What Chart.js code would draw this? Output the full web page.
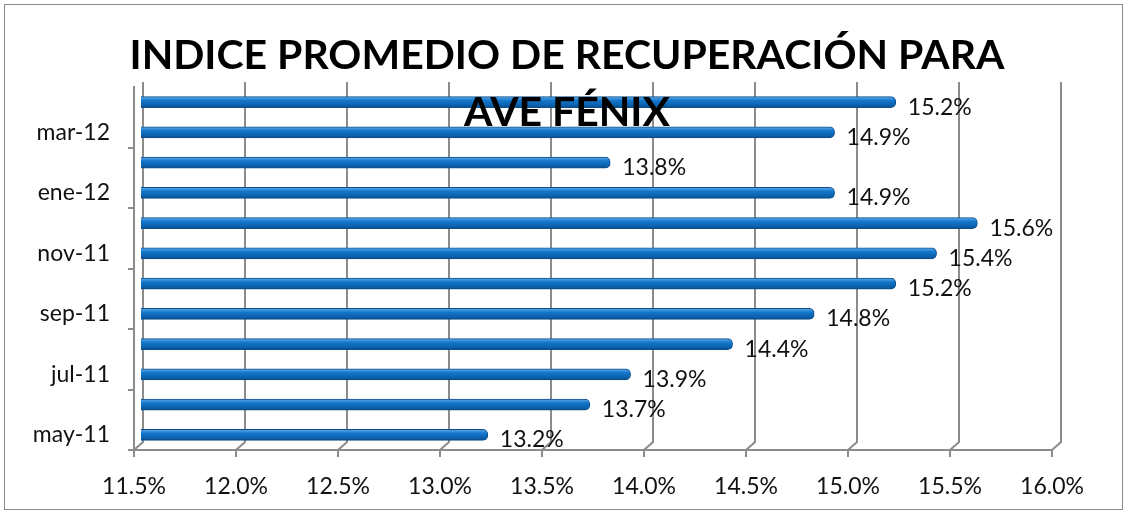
<!DOCTYPE html>
<html>
<head>
<meta charset="utf-8">
<script src="https://cdn.jsdelivr.net/npm/chart.js@4"></script>
<style>
  html, body { margin: 0; padding: 0; background: #fff; }
  #wrap { width: 1127px; height: 511px; position: relative; }
</style>
</head>
<body>
<div id="wrap"><canvas id="chart_indice"></canvas></div>
<script>
// data
var meses = ['may-11', 'jun-11', 'jul-11', 'ago-11', 'sep-11', 'oct-11',
             'nov-11', 'dic-11', 'ene-12', 'feb-12', 'mar-12', 'abr-12'];
var indice = [13.2, 13.7, 13.9, 14.4, 14.8, 15.2, 15.4, 15.6, 14.9, 13.8, 14.9, 15.2];
var tituloLineas = ['INDICE PROMEDIO DE RECUPERACIÓN PARA', 'AVE FÉNIX'];
var ejeMin = 11.5, ejeMax = 16.0, ejePaso = 0.5;

var FONT = 'Lato, "Open Sans", sans-serif';
var GRID = '#8c8c8c';
var PROF = 7; // depth shift of the bars (3D look)

var chart_indice = new Chart(document.getElementById('chart_indice'), {
    type: 'bar',
    data: {
        labels: meses,
        datasets: [{
            label: 'Indice',
            data: indice,
            barThickness: 11,
            borderRadius: 5,
            borderSkipped: 'start',
            borderWidth: 1,
            borderColor: '#0d4f8a',
            backgroundColor: function (ctx) {
                var c = ctx.chart;
                var ys = c.scales.y;
                if (!ys || !c.chartArea) return '#1f77c8';
                var yc = ys.getPixelForValue(ctx.dataIndex);
                var g = c.ctx.createLinearGradient(0, yc - 6, 0, yc + 6);
                g.addColorStop(0, '#6cb2ee');
                g.addColorStop(0.35, '#1578cc');
                g.addColorStop(0.8, '#0a5ea8');
                g.addColorStop(1, '#08457c');
                return g;
            }
        }]
    },
    options: {
        indexAxis: 'y',
        animation: false,
        responsive: true,
        maintainAspectRatio: false,
        layout: { padding: { top: 87, right: 75, bottom: 0, left: 0 } },
        plugins: {
            legend: { display: false },
            title: { display: false },
            tooltip: { enabled: false }
        },
        scales: {
            x: {
                type: 'linear',
                min: ejeMin,
                max: ejeMax,
                afterFit: function (axis) { axis.height = 61; },
                afterBuildTicks: function (axis) {
                    var t = [];
                    for (var v = ejeMin; v <= ejeMax + 1e-9; v += ejePaso) t.push({ value: Math.round(v * 10) / 10 });
                    axis.ticks = t;
                },
                ticks: {
                    color: '#111',
                    font: { family: FONT, size: 23 },
                    padding: 16,
                    callback: function (v) { return Number(v).toFixed(1) + '%'; }
                },
                grid: { drawOnChartArea: false, drawTicks: true, tickLength: 7, color: GRID, lineWidth: 2 },
                border: { display: true, color: GRID, width: 2 }
            },
            y: {
                reverse: true,
                afterFit: function (axis) { axis.width = 134; },
                ticks: {
                    color: '#111',
                    font: { family: FONT, size: 23 },
                    padding: 18,
                    autoSkip: false,
                    callback: function (v, i) { return i % 2 === 0 ? meses[i] : ''; }
                },
                grid: {
                    offset: true,
                    drawOnChartArea: false,
                    tickLength: 6,
                    lineWidth: 2,
                    color: function (ctx) { return ctx.index % 2 === 0 ? GRID : 'rgba(0,0,0,0)'; }
                },
                border: { display: true, color: GRID, width: 2 }
            }
        }
    },
    plugins: [{
        id: 'fondoYMarco',
        beforeDraw: function (chart) {
            var ctx = chart.ctx;
            ctx.save();
            ctx.fillStyle = 'white';
            ctx.fillRect(0, 0, chart.width, chart.height);
            ctx.strokeStyle = '#8a8a8a';
            ctx.lineWidth = 1;
            ctx.strokeRect(4.5, 4.5, 1118, 505);
            ctx.restore();
        }
    }, {
        id: 'paredFondo',
        // back wall gridlines with the little 3D step at the floor
        beforeDatasetsDraw: function (chart) {
            var ctx = chart.ctx, xs = chart.scales.x, a = chart.chartArea;
            ctx.save();
            ctx.strokeStyle = GRID;
            ctx.lineWidth = 2;
            xs.ticks.forEach(function (t) {
                var px = xs.getPixelForValue(t.value);
                ctx.beginPath();
                ctx.moveTo(px, a.bottom);
                ctx.lineTo(px + 9, a.bottom - 8);
                ctx.lineTo(px + 9, a.top - 5);
                ctx.stroke();
            });
            ctx.restore();
        },
        beforeDatasetDraw: function (chart) {
            chart.ctx.save();
            chart.ctx.translate(PROF, 0);
        },
        afterDatasetDraw: function (chart) {
            chart.ctx.restore();
        }
    }, {
        id: 'etiquetasYTitulo',
        afterDatasetsDraw: function (chart) {
            var ctx = chart.ctx;
            var meta = chart.getDatasetMeta(0);
            ctx.save();
            ctx.fillStyle = '#111';
            ctx.font = '23px ' + FONT;
            ctx.textAlign = 'left';
            ctx.textBaseline = 'middle';
            meta.data.forEach(function (bar, i) {
                ctx.fillText(indice[i].toFixed(1) + '%', bar.x + PROF + 12, bar.y + 5);
            });
            // title: cap height like the reference, squeezed to its width
            var size = 41;
            ctx.font = 'bold ' + size + 'px ' + FONT;
            var sx = 875 / ctx.measureText(tituloLineas[0]).width;
            ctx.textAlign = 'center';
            ctx.fillStyle = '#000';
            ctx.translate(567, 0);
            ctx.scale(sx, 1);
            ctx.fillText(tituloLineas[0], 0, 56);
            ctx.fillText(tituloLineas[1], 0, 113);
            ctx.restore();
        }
    }]
});
</script>
</body>
</html>
